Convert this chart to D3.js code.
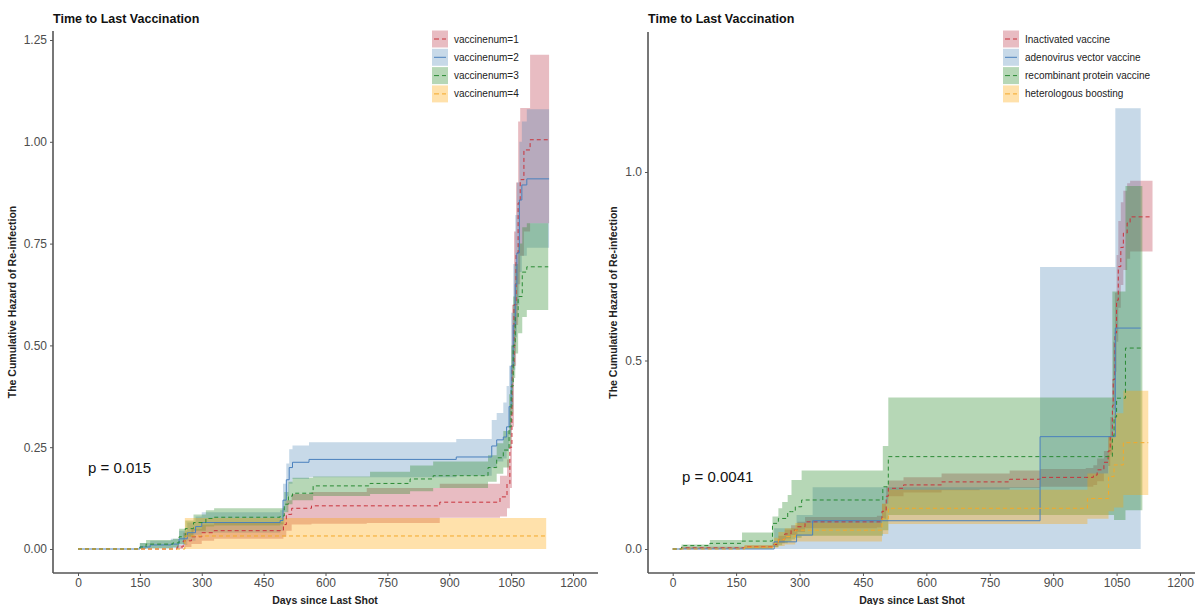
<!DOCTYPE html>
<html><head><meta charset="utf-8">
<script src="https://cdn.jsdelivr.net/npm/d3@7"></script>
<style>body{margin:0;background:#fff;} svg{display:block;font-family:"Liberation Sans",Arial,sans-serif;}</style>
</head><body><svg id="c" width="1195" height="605"></svg>
<script>
// ---------- shared ----------
const xTicks = [0,150,300,450,600,750,900,1050,1200];
const leftYTicks = [0,0.25,0.5,0.75,1.0,1.25];
const rightYTicks = [0,0.5,1.0];
const leftLabels = ["vaccinenum=1","vaccinenum=2","vaccinenum=3","vaccinenum=4"];
const rightLabels = ["Inactivated vaccine","adenovirus vector vaccine","recombinant protein vaccine","heterologous boosting"];
const titleText = "Time to Last Vaccination";
const pLeft = "p = 0.015", pRight = "p = 0.0041";

// ---------- left panel: vaccinenum ----------
const L1_t   = [0,240,255,275,300,330,498,505,518,566,700,877,1023,1040,1047,1052,1057,1062,1067,1072,1081,1096,1142];
const L1_est = [0,0.005,0.02,0.03,0.04,0.045,0.06,0.085,0.10,0.106,0.106,0.115,0.128,0.16,0.25,0.45,0.6,0.727,0.85,0.907,0.98,1.005,1.005];
const L1_lo  = [0,0,0.005,0.012,0.02,0.025,0.03,0.045,0.06,0.062,0.064,0.077,0.08,0.1,0.15,0.3,0.45,0.55,0.65,0.72,0.78,0.80,0.80];
const L1_hi  = [0,0.01,0.04,0.05,0.06,0.066,0.09,0.12,0.135,0.14,0.15,0.16,0.18,0.22,0.35,0.6,0.78,0.9,1.05,1.083,1.083,1.214,1.214];

const L2_t   = [0,150,175,225,245,265,285,300,490,497,505,512,520,560,917,1003,1015,1031,1039,1045,1050,1055,1060,1064,1070,1076,1088,1142];
const L2_est = [0,0.005,0.01,0.012,0.025,0.04,0.055,0.065,0.07,0.12,0.17,0.2,0.213,0.22,0.226,0.253,0.268,0.275,0.3,0.35,0.45,0.55,0.65,0.727,0.857,0.894,0.909,0.909];
const L2_lo  = [0,0,0.001,0.002,0.01,0.02,0.035,0.04,0.045,0.09,0.13,0.16,0.172,0.176,0.18,0.2,0.215,0.222,0.24,0.28,0.35,0.44,0.52,0.6,0.68,0.72,0.74,0.74];
const L2_hi  = [0,0.015,0.02,0.025,0.045,0.065,0.08,0.09,0.095,0.16,0.21,0.245,0.254,0.262,0.27,0.317,0.334,0.36,0.4,0.45,0.58,0.7,0.82,0.9,1.0,1.05,1.08,1.08];

const L3_t   = [0,150,165,230,245,260,280,310,330,490,500,510,520,570,708,805,861,994,1015,1031,1045,1050,1055,1060,1067,1077,1088,1140];
const L3_est = [0,0.005,0.012,0.015,0.03,0.05,0.065,0.075,0.078,0.081,0.11,0.13,0.137,0.155,0.161,0.172,0.18,0.2,0.224,0.243,0.3,0.4,0.5,0.57,0.62,0.68,0.693,0.693];
const L3_lo  = [0,0,0.002,0.004,0.012,0.03,0.045,0.055,0.058,0.06,0.09,0.11,0.12,0.13,0.135,0.142,0.15,0.165,0.185,0.2,0.25,0.33,0.42,0.48,0.53,0.57,0.587,0.587];
const L3_hi  = [0,0.015,0.022,0.025,0.05,0.07,0.085,0.095,0.1,0.1,0.14,0.165,0.175,0.178,0.19,0.205,0.215,0.23,0.26,0.29,0.38,0.5,0.62,0.7,0.75,0.79,0.80,0.80];

const L4_t   = [0,259,1135];
const L4_est = [0,0.032,0.032];
const L4_lo  = [0,0,0];
const L4_hi  = [0,0.076,0.076];

// ---------- right panel: vaccine type ----------
const R1_t   = [0,20,170,236,250,265,280,295,313,483,495,505,510,546,636,726,797,869,977,995,1004,1020,1030,1035,1040,1042,1046,1050,1054,1060,1066,1075,1082,1135];
const R1_est = [0,0.003,0.006,0.012,0.025,0.04,0.05,0.059,0.072,0.072,0.1,0.14,0.161,0.17,0.178,0.178,0.185,0.19,0.19,0.196,0.21,0.23,0.26,0.3,0.38,0.45,0.573,0.66,0.749,0.8,0.838,0.865,0.881,0.881];
const R1_lo  = [0,0,0.002,0.006,0.015,0.028,0.037,0.045,0.055,0.057,0.08,0.12,0.14,0.15,0.156,0.158,0.162,0.165,0.165,0.17,0.18,0.2,0.22,0.25,0.31,0.37,0.47,0.55,0.64,0.7,0.74,0.77,0.789,0.789];
const R1_hi  = [0,0.006,0.01,0.018,0.035,0.052,0.063,0.072,0.085,0.088,0.12,0.165,0.182,0.19,0.2,0.2,0.208,0.212,0.215,0.222,0.24,0.26,0.3,0.35,0.45,0.55,0.68,0.78,0.87,0.92,0.95,0.97,0.977,0.977];

const R2_t   = [0,240,293,331,869,1047,1107];
const R2_est = [0,0.019,0.037,0.075,0.298,0.586,0.586];
const R2_lo  = [0,0,0,0,0,0,0];
const R2_hi  = [0,0.055,0.09,0.164,0.748,1.169,1.169];

const R3_t   = [0,21,88,164,236,250,259,272,281,290,305,497,510,1040,1044,1050,1071,1111];
const R3_est = [0,0.009,0.015,0.021,0.068,0.081,0.081,0.099,0.099,0.112,0.13,0.165,0.245,0.30,0.35,0.40,0.533,0.533];
const R3_lo  = [0,0,0,0,0.005,0.01,0.015,0.02,0.025,0.03,0.035,0.05,0.09,0.09,0.077,0.077,0.103,0.103];
const R3_hi  = [0,0.012,0.024,0.044,0.086,0.108,0.125,0.143,0.183,0.183,0.208,0.273,0.402,0.683,0.683,0.683,0.963,0.963];

const R4_t   = [0,170,240,250,265,290,495,510,981,1031,1044,1066,1125];
const R4_est = [0,0.005,0.015,0.025,0.033,0.05,0.08,0.108,0.134,0.192,0.223,0.282,0.282];
const R4_lo  = [0,0,0.003,0.008,0.012,0.02,0.04,0.066,0.08,0.1,0.11,0.143,0.143];
const R4_hi  = [0,0.01,0.03,0.045,0.055,0.069,0.12,0.157,0.2,0.3,0.36,0.42,0.42];

// ---------- styles ----------
const lineCols = ["#c8323a","#4a80bd","#2a8a34","#f4a92a"];
const fillCols = ["#b22234","#4682b4","#2e8b2e","#ffa500"];
const fillOp = [0.3,0.3,0.35,0.33];
const dashes = ["4,3",null,"4,3","4,3"];

function mk(t,e,l,h){return t.map((v,i)=>({t:v,est:e[i],lo:l[i],hi:h[i]}));}
const leftSeries = [mk(L1_t,L1_est,L1_lo,L1_hi),mk(L2_t,L2_est,L2_lo,L2_hi),mk(L3_t,L3_est,L3_lo,L3_hi),mk(L4_t,L4_est,L4_lo,L4_hi)];
const rightSeries = [mk(R1_t,R1_est,R1_lo,R1_hi),mk(R2_t,R2_est,R2_lo,R2_hi),mk(R3_t,R3_est,R3_lo,R3_hi),mk(R4_t,R4_est,R4_lo,R4_hi)];

const svg = d3.select("#c");
const axisCol = "#555";

function panel(cfg){
  const g = svg.append("g");
  const x = d3.scaleLinear().domain([0,1200]).range([cfg.x0,cfg.x1200]);
  const y = d3.scaleLinear().domain([0,cfg.yTopVal]).range([cfg.y0,cfg.yTopPx]);
  const clipId = "clip"+cfg.id;
  svg.append("clipPath").attr("id",clipId).append("rect")
    .attr("x",cfg.axX).attr("y",cfg.axTop).attr("width",cfg.axRight-cfg.axX).attr("height",cfg.axBot-cfg.axTop);
  const pg = g.append("g").attr("clip-path",`url(#${clipId})`);
  const area = d3.area().x(d=>x(d.t)).y0(d=>y(d.lo)).y1(d=>y(d.hi)).curve(d3.curveStepAfter);
  const line = d3.line().x(d=>x(d.t)).y(d=>y(d.est)).curve(d3.curveStepAfter);
  cfg.series.forEach((s,i)=>{
    pg.append("path").attr("d",area(s)).attr("fill",fillCols[i]).attr("fill-opacity",fillOp[i]).attr("stroke","none");
  });
  cfg.series.forEach((s,i)=>{
    pg.append("path").attr("d",line(s)).attr("fill","none").attr("stroke",lineCols[i]).attr("stroke-width",1)
      .attr("stroke-dasharray",dashes[i]);
  });
  // axes
  const ya = d3.axisLeft(y).tickValues(cfg.yTicks).tickFormat(cfg.yFmt).tickSize(3).tickPadding(3);
  const yg = g.append("g").attr("transform",`translate(${cfg.axX},0)`).call(ya);
  yg.select(".domain").remove();
  yg.selectAll("line").attr("stroke",axisCol);
  yg.selectAll("text").attr("fill","#4d4d4d").style("font-size","12px").style("font-family","Liberation Sans, Arial, sans-serif");
  const xa = d3.axisBottom(x).tickValues(xTicks).tickFormat(d3.format("d")).tickSize(3).tickPadding(2);
  const xg = g.append("g").attr("transform",`translate(0,${cfg.axBot})`).call(xa);
  xg.select(".domain").remove();
  xg.selectAll("line").attr("stroke",axisCol);
  xg.selectAll("text").attr("fill","#4d4d4d").style("font-size","12px").style("font-family","Liberation Sans, Arial, sans-serif");
  g.append("line").attr("x1",cfg.axX).attr("x2",cfg.axX).attr("y1",cfg.axTop).attr("y2",cfg.axBot).attr("stroke",axisCol).attr("stroke-width",1.6);
  g.append("line").attr("x1",cfg.axX).attr("x2",cfg.axRight).attr("y1",cfg.axBot).attr("y2",cfg.axBot).attr("stroke",axisCol).attr("stroke-width",1.6);
  // titles
  g.append("text").attr("x",cfg.axX).attr("y",22.5).text(titleText).attr("font-weight","bold").attr("font-size","12.5px").attr("fill","#111");
  g.append("text").attr("transform",`translate(${cfg.yTitleX},${(cfg.axTop+cfg.axBot)/2}) rotate(-90)`).attr("text-anchor","middle")
    .text("The Cumulative Hazard of Re-infection").attr("font-weight","bold").attr("font-size","10.5px").attr("fill","#222");
  g.append("text").attr("x",cfg.xTitleX).attr("y",604).attr("text-anchor","middle").text("Days since Last Shot")
    .attr("font-weight","bold").attr("font-size","10.5px").attr("fill","#222");
  g.append("text").attr("x",cfg.pX).attr("y",cfg.pY).text(cfg.pText).attr("font-size","15px").attr("fill","#111");
  // legend
  cfg.labels.forEach((lab,i)=>{
    const cy = cfg.legY + i*18.3;
    g.append("rect").attr("x",cfg.legX).attr("y",cy-8.5).attr("width",16).attr("height",17)
      .attr("fill",fillCols[i]).attr("fill-opacity",fillOp[i]);
    g.append("line").attr("x1",cfg.legX+2).attr("x2",cfg.legX+14).attr("y1",cy).attr("y2",cy)
      .attr("stroke",lineCols[i]).attr("stroke-width",1).attr("stroke-dasharray",dashes[i]? "5,3":null);
    g.append("text").attr("x",cfg.legX+22).attr("y",cy+3.5).text(lab).attr("font-size","10px").attr("fill","#222");
  });
}

panel({id:"L",series:leftSeries,x0:78,x1200:573,yTopVal:1.25,y0:549,yTopPx:40,axX:53,axRight:598,axTop:31,axBot:573,
  yTicks:leftYTicks,yFmt:d3.format(".2f"),yTitleX:16,xTitleX:325,pX:88,pY:473,pText:pLeft,labels:leftLabels,legX:432,legY:39});
panel({id:"R",series:rightSeries,x0:672.7,x1200:1180,yTopVal:1.0,y0:549,yTopPx:172,axX:648,axRight:1195,axTop:32,axBot:573,
  yTicks:rightYTicks,yFmt:d3.format(".1f"),yTitleX:617,xTitleX:912,pX:682,pY:482,pText:pRight,labels:rightLabels,legX:1003,legY:39});
</script></body></html>
